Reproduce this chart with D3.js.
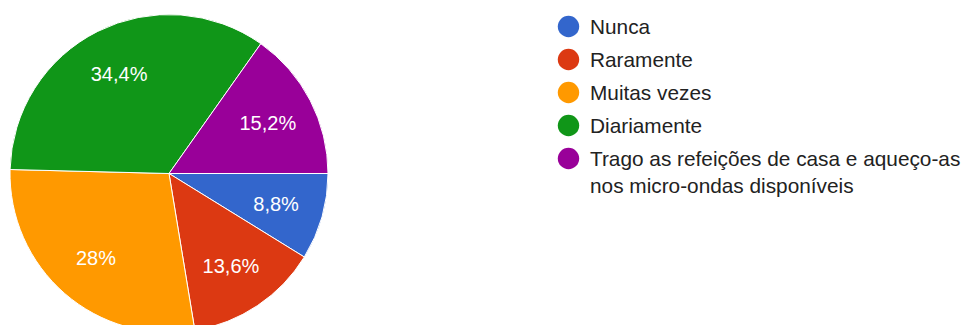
<!DOCTYPE html>
<html>
<head>
<meta charset="utf-8">
<script src="https://cdn.jsdelivr.net/npm/d3@7"></script>
<style>
  html, body { margin: 0; padding: 0; background: #fff; }
  svg { display: block; }
</style>
</head>
<body>
<svg id="chart" width="965" height="325"></svg>
<script>
// Survey answers and their shares (%)
const categories = [
  "Nunca",
  "Raramente",
  "Muitas vezes",
  "Diariamente",
  "Trago as refeições de casa e aqueço-as nos micro-ondas disponíveis"
];
const legendLines = [
  ["Nunca"],
  ["Raramente"],
  ["Muitas vezes"],
  ["Diariamente"],
  ["Trago as refeições de casa e aqueço-as", "nos micro-ondas disponíveis"]
];
const values = [8.8, 13.6, 28, 34.4, 15.2];
const valueLabels = ["8,8%", "13,6%", "28%", "34,4%", "15,2%"];
const colors = ["#3366cc", "#dc3912", "#ff9900", "#109618", "#990099"];

const svg = d3.select("#chart");
const font = "'Liberation Sans', Arial, sans-serif";

const cx = 169, cy = 173.5, R = 159;

const color = d3.scaleOrdinal().domain(categories).range(colors);

// Slices run clockwise starting from 3 o'clock
const pie = d3.pie()
  .sort(null)
  .value(d => d.value)
  .startAngle(Math.PI / 2)
  .endAngle(Math.PI / 2 + 2 * Math.PI);

const data = categories.map((c, i) => ({ cat: c, value: values[i], label: valueLabels[i] }));
const arcs = pie(data);

const arc = d3.arc().innerRadius(0).outerRadius(R);
const labelArc = d3.arc().innerRadius(R * 0.7).outerRadius(R * 0.7);

const g = svg.append("g").attr("transform", `translate(${cx},${cy})`);

g.selectAll("path.slice")
  .data(arcs)
  .join("path")
  .attr("class", "slice")
  .attr("d", arc)
  .attr("fill", d => color(d.data.cat))
  .attr("stroke", "#fff")
  .attr("stroke-width", 1);

g.selectAll("text.pct")
  .data(arcs)
  .join("text")
  .attr("class", "pct")
  .attr("transform", d => `translate(${labelArc.centroid(d)})`)
  .attr("text-anchor", "middle")
  .attr("dy", "0.36em")
  .attr("fill", "#fff")
  .attr("font-family", font)
  .attr("font-size", 20)
  .text(d => d.data.label);

// Legend
const legend = svg.append("g").attr("transform", "translate(568.5,26.5)");
const rowH = 33;
const item = legend.selectAll("g.item")
  .data(categories)
  .join("g")
  .attr("class", "item")
  .attr("transform", (d, i) => `translate(0,${i * rowH})`);

item.append("circle")
  .attr("r", 10.7)
  .attr("fill", d => color(d));

item.append("text")
  .attr("fill", "#222")
  .attr("font-family", font)
  .attr("font-size", 20.8)
  .selectAll("tspan")
  .data((d, i) => legendLines[i])
  .join("tspan")
  .attr("x", 21.5)
  .attr("y", (d, j) => 7 + j * 27.5)
  .text(d => d);
</script>
</body>
</html>
